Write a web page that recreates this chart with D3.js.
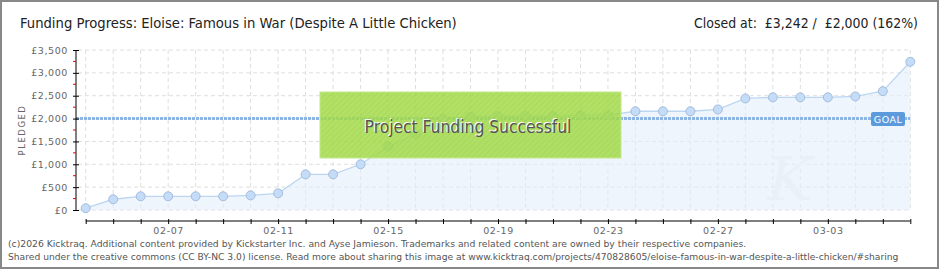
<!DOCTYPE html>
<html lang="en">
<head>
    <meta charset="UTF-8">
    <title>Funding Progress</title>
    <script src="https://cdnjs.cloudflare.com/ajax/libs/d3/7.8.5/d3.min.js"></script>
    <style>
        body { margin: 0; background: #fff; }
        .grid line { stroke: #dedede; stroke-dasharray: 4 3; }
        .x-axis text, .y-axis text { fill: #666; font-family: "DejaVu Sans", sans-serif; font-size: 9.5px; letter-spacing: 0.6px; }
        .footer { fill: #555; font-family: "DejaVu Sans", sans-serif; font-size: 10px; }
        .cond { font-family: "DejaVu Sans Condensed", "Liberation Sans Narrow", sans-serif; }
    </style>
</head>
<body>
    <div id="wrapper"></div>
    <script>
        // data
        const days = ['02-04','02-05','02-06','02-07','02-08','02-09','02-10','02-11','02-12','02-13',
            '02-14','02-15','02-16','02-17','02-18','02-19','02-20','02-21','02-22','02-23',
            '02-24','02-25','02-26','02-27','02-28','03-01','03-02','03-03','03-04','03-05','03-06']
        const pledged = [40, 235, 300, 300, 300, 300, 320, 365, 780, 780,
            1000, 1390, 1660, 1990, 2040, 2055, 2055, 2055, 2075, 2075,
            2160, 2160, 2160, 2200, 2440, 2465, 2465, 2465, 2485, 2600, 3242]
        const labelDays = ['02-07','02-11','02-15','02-19','02-23','02-27','03-03']
        const yTicks = [0, 500, 1000, 1500, 2000, 2500, 3000, 3500]
        const goal = 2000

        const parseDay = s => new Date(Date.UTC(2026, +s.slice(0, 2) - 1, +s.slice(3)))
        const dataset = days.map((d, i) => ({ date: parseDay(d), value: pledged[i] }))

        const width = 940
        const height = 270

        const svg = d3.select('#wrapper').append('svg')
            .attr('width', width)
            .attr('height', height)

        // shrink/grow a text's font size so it spans the given width
        function fitText(sel, w) {
            const fs = parseFloat(getComputedStyle(sel.node()).fontSize)
            const len = sel.node().getComputedTextLength()
            sel.style('font-size', (fs * w / len).toFixed(2) + 'px')
        }

        // border
        svg.append('rect')
            .attr('x', 1).attr('y', 1)
            .attr('width', width - 3).attr('height', height - 3)
            .attr('fill', 'none').attr('stroke', '#888').attr('stroke-width', 2)

        const xScale = d3.scaleUtc()
            .domain(d3.extent(dataset, d => d.date))
            .range([85.7, 910.3])
        const yScale = d3.scaleLinear()
            .domain([0, 3500])
            .range([210, 50])

        // grid
        const grid = svg.append('g').attr('class', 'grid')
        grid.selectAll('.v').data(dataset).join('line')
            .attr('x1', d => xScale(d.date)).attr('x2', d => xScale(d.date))
            .attr('y1', yScale(3500)).attr('y2', yScale(0))
        grid.selectAll('.h').data(yTicks).join('line')
            .attr('x1', 78).attr('x2', xScale.range()[1])
            .attr('y1', d => yScale(d)).attr('y2', d => yScale(d))

        // area + line
        const area = d3.area()
            .x(d => xScale(d.date))
            .y0(yScale(0))
            .y1(d => yScale(d.value))
        svg.append('path').datum(dataset)
            .attr('d', area)
            .attr('fill', '#e4eefa')
            .attr('fill-opacity', 0.6)
        const line = d3.line().x(d => xScale(d.date)).y(d => yScale(d.value))
        svg.append('path').datum(dataset)
            .attr('d', line)
            .attr('fill', 'none')
            .attr('stroke', '#bcd6f2')
            .attr('stroke-width', 1.3)

        // watermark
        svg.append('text')
            .attr('x', 790).attr('y', 200)
            .attr('text-anchor', 'middle')
            .attr('fill', '#e9f0f8')
            .style('font-family', '"DejaVu Serif", serif')
            .style('font-style', 'italic')
            .style('font-size', '60px')
            .text('K')

        // goal line
        svg.append('line')
            .attr('x1', 76).attr('x2', xScale.range()[1])
            .attr('y1', yScale(goal)).attr('y2', yScale(goal))
            .attr('stroke', '#8fb6e2')
            .attr('stroke-width', 3)
            .attr('stroke-dasharray', '3 1')

        // points
        svg.append('g').selectAll('circle').data(dataset).join('circle')
            .attr('cx', d => xScale(d.date))
            .attr('cy', d => yScale(d.value))
            .attr('r', 4.5)
            .attr('fill', '#c4dcf7')
            .attr('stroke', '#97b3d3')
            .attr('stroke-width', 0.8)

        // goal label
        const goalG = svg.append('g')
        goalG.append('rect')
            .attr('x', 871).attr('y', yScale(goal) - 6.5)
            .attr('width', 34).attr('height', 14)
            .attr('rx', 2)
            .attr('fill', '#5b9bdb')
        goalG.append('text')
            .attr('x', 888).attr('y', yScale(goal) + 4)
            .attr('text-anchor', 'middle')
            .attr('fill', '#fff')
            .style('font-family', '"DejaVu Sans", sans-serif')
            .style('font-size', '9.5px')
            .style('letter-spacing', '0.5px')
            .text('GOAL')

        // success banner
        const defs = svg.append('defs')
        const pat = defs.append('pattern')
            .attr('id', 'hatch')
            .attr('width', 4).attr('height', 4)
            .attr('patternUnits', 'userSpaceOnUse')
            .attr('patternTransform', 'rotate(45)')
        pat.append('rect').attr('width', 4).attr('height', 4).attr('fill', '#a5dc4c')
        pat.append('rect').attr('width', 1.5).attr('height', 4).attr('fill', '#9ed446')
        svg.append('rect')
            .attr('x', 320).attr('y', 92)
            .attr('width', 301).attr('height', 66)
            .attr('fill', 'url(#hatch)')
            .attr('fill-opacity', 0.86)
            .attr('stroke', '#c2e88a')
            .attr('stroke-width', 1)
        const bannerShadow = svg.append('text').attr('class', 'cond')
            .attr('x', 467).attr('y', 132)
            .attr('text-anchor', 'middle')
            .attr('fill', '#fff')
            .style('font-size', '19px')
            .text('Project Funding Successful')
        const bannerText = svg.append('text').attr('class', 'cond')
            .attr('x', 468).attr('y', 133)
            .attr('text-anchor', 'middle')
            .attr('fill', '#555')
            .style('font-size', '19px')
            .text('Project Funding Successful')
        fitText(bannerShadow, 207)
        fitText(bannerText, 207)

        // y axis
        const yAxis = svg.append('g')
            .attr('class', 'y-axis')
            .attr('transform', 'translate(76,0)')
            .call(d3.axisLeft(yScale)
                .tickValues(yTicks)
                .tickSize(3)
                .tickPadding(5)
                .tickFormat(d => '£' + d3.format(',')(d)))
        yAxis.select('.domain').attr('stroke', '#000').attr('d', `M0,${yScale(3500)}V${yScale(0)}`)
        yAxis.selectAll('.tick line').attr('x2', 3).attr('x1', -3).attr('stroke', '#000')
        svg.append('g').selectAll('line')
            .data(yTicks.slice(0, -1).map(d => d + 250))
            .join('line')
            .attr('x1', 73).attr('x2', 76)
            .attr('y1', d => yScale(d)).attr('y2', d => yScale(d))
            .attr('stroke', '#e00')

        svg.append('text')
            .attr('transform', 'translate(25,130) rotate(-90)')
            .attr('text-anchor', 'middle')
            .attr('fill', '#666')
            .style('font-family', '"DejaVu Sans", sans-serif')
            .style('font-size', '8.5px')
            .style('letter-spacing', '1.5px')
            .text('PLEDGED')

        // x axis
        const xAxis = svg.append('g')
            .attr('class', 'x-axis')
            .attr('transform', 'translate(0,221)')
            .call(d3.axisBottom(xScale)
                .tickValues(dataset.map(d => d.date))
                .tickSize(2)
                .tickPadding(4)
                .tickFormat(d => {
                    const s = d3.utcFormat('%m-%d')(d)
                    return labelDays.includes(s) ? s : ''
                }))
        xAxis.select('.domain').attr('stroke', '#000')
            .attr('d', `M${xScale.range()[0]},0H${xScale.range()[1]}`)
        xAxis.selectAll('.tick line').attr('y1', -2).attr('y2', 3).attr('stroke', '#000')

        // title
        const title = svg.append('text').attr('class', 'cond')
            .attr('x', 20).attr('y', 28)
            .attr('fill', '#222')
            .style('font-size', '15px')
            .text('Funding Progress: Eloise: Famous in War (Despite A Little Chicken)')
        fitText(title, 437)
        const closed = svg.append('text').attr('class', 'cond')
            .attr('x', 918).attr('y', 28)
            .attr('text-anchor', 'end')
            .attr('fill', '#222')
            .style('font-size', '15px')
            .style('white-space', 'pre')
            .text('Closed at:  £3,242 /  £2,000 (162%)')
        fitText(closed, 224)

        // footer
        const foot1 = svg.append('text').attr('class', 'footer')
            .attr('x', 8).attr('y', 247)
            .text('(c)2026 Kicktraq. Additional content provided by Kickstarter Inc. and Ayse Jamieson. Trademarks and related content are owned by their respective companies.')
        fitText(foot1, 739)
        const foot2 = svg.append('text').attr('class', 'footer')
            .attr('x', 8).attr('y', 260)
            .text('Shared under the creative commons (CC BY-NC 3.0) license. Read more about sharing this image at www.kicktraq.com/projects/470828605/eloise-famous-in-war-despite-a-little-chicken/#sharing')
        fitText(foot2, 892)
    </script>
</body>
</html>
